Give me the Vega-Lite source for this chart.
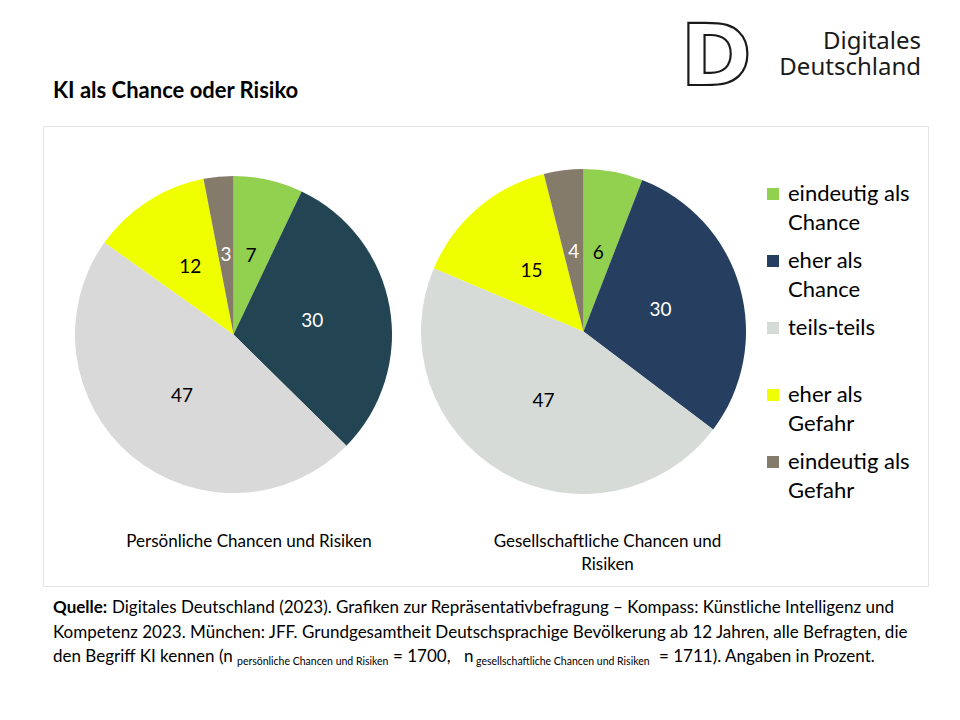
{
  "$schema": "https://vega.github.io/schema/vega-lite/v6.json",
  "background": "white",
  "padding": {"left": 42, "top": 15, "right": 0, "bottom": 0},
  "bounds": "flush",
  "spacing": 0,
  "config": {"view": {"stroke": null}, "font": "Lato", "concat": {"spacing": 0}},
  "vconcat": [
    {
      "width": 885,
      "height": 111,
      "data": {"values": [{"logo": ["Digitales", "Deutschland"], "glyph": "D"}]},
      "layer": [
        {
          "mark": {"type": "text", "align": "right", "baseline": "top", "font": "Noto Sans", "fontSize": 24, "lineHeight": 26, "color": "#1a1a1a", "dx": -7, "dy": 15},
          "encoding": {"text": {"field": "logo"}, "x": {"value": "width"}, "y": {"value": 0}}
        },
        {
          "mark": {"type": "text", "align": "right", "baseline": "top", "font": "DejaVu Sans", "fontWeight": "bold", "fontSize": 86, "fill": "transparent", "stroke": "#1a1a1a", "strokeWidth": 2.2, "dx": -176, "dy": 1.5},
          "encoding": {"text": {"field": "glyph"}, "x": {"value": "width"}, "y": {"value": 0}}
        }
      ]
    },
    {
      "width": 885,
      "height": 460,
      "view": {"stroke": "#e4e4e4", "strokeWidth": 1},
      "title": {"text": "KI als Chance oder Risiko", "anchor": "start", "frame": "group", "font": "Lato", "fontSize": 22, "fontWeight": "bold", "color": "#000000", "dx": 10, "offset": 6, "baseline": "alphabetic"},
      "data": {"values": [
        {"panel": "pers", "cat": "eindeutig als Chance", "order": 1, "value": 7},
        {"panel": "pers", "cat": "eher als Chance", "order": 2, "value": 30},
        {"panel": "pers", "cat": "teils-teils", "order": 3, "value": 47},
        {"panel": "pers", "cat": "eher als Gefahr", "order": 4, "value": 12},
        {"panel": "pers", "cat": "eindeutig als Gefahr", "order": 5, "value": 3},
        {"panel": "ges", "cat": "eindeutig als Chance", "order": 1, "value": 6},
        {"panel": "ges", "cat": "eher als Chance", "order": 2, "value": 30},
        {"panel": "ges", "cat": "teils-teils", "order": 3, "value": 47},
        {"panel": "ges", "cat": "eher als Gefahr", "order": 4, "value": 15},
        {"panel": "ges", "cat": "eindeutig als Gefahr", "order": 5, "value": 4}
      ]},
      "transform": [
        {"stack": "value", "groupby": ["panel"], "sort": [{"field": "order"}], "offset": "normalize", "as": ["v0", "v1"]},
        {"calculate": "(datum.v0 + datum.v1) / 2", "as": "mid"}
      ],
      "encoding": {
        "x": {"field": "panel", "type": "nominal", "scale": {"type": "point", "domain": ["pers", "ges"], "range": [190.5, 540.5], "padding": 0}, "axis": null},
        "y": {"field": "panel", "type": "nominal", "scale": {"type": "point", "domain": ["pers", "ges"], "range": [208.5, 205.5], "padding": 0}, "axis": null}
      },
      "layer": [
        {
          "transform": [{"filter": "datum.panel === 'pers'"}],
          "mark": {"type": "arc", "outerRadius": 158.5},
          "encoding": {
            "theta": {"field": "v0", "type": "quantitative", "scale": {"domain": [0, 1], "range": [0, 6.283185307179586]}},
            "theta2": {"field": "v1"},
            "color": {
              "field": "cat", "type": "nominal",
              "scale": {"domain": ["eindeutig als Chance", "eher als Chance", "teils-teils", "eher als Gefahr", "eindeutig als Gefahr"], "range": ["#92d050", "#263f60", "#d6dbd8", "#f0ff00", "#857b6b"]},
              "condition": [
                {"test": "datum.cat === 'eher als Chance'", "value": "#224453"},
                {"test": "datum.cat === 'teils-teils'", "value": "#d9d9d9"}
              ],
              "legend": {
                "title": null, "orient": "none", "legendX": 719, "legendY": 168,
                "symbolType": "square", "symbolSize": 144, "symbolStrokeWidth": 0,
                "labelFont": "Lato", "labelFontSize": 22, "labelColor": "#000000", "labelLimit": 300,
                "labelOffset": 4, "rowPadding": 16, "padding": 0, "labelBaseline": "alphabetic",
                "labelExpr": "indexof(datum.label, ' als ') >= 0 ? [slice(datum.label, 0, indexof(datum.label, ' als ') + 4), slice(datum.label, indexof(datum.label, ' als ') + 5)] : [datum.label, ' ']",
                "encode": {"labels": {"update": {"lineHeight": {"value": 29}, "dy": {"value": 7}}}}
              }
            }
          }
        },
        {
          "transform": [{"filter": "datum.panel === 'ges'"}],
          "mark": {"type": "arc", "outerRadius": 162.5},
          "encoding": {
            "theta": {"field": "v0", "type": "quantitative"},
            "theta2": {"field": "v1"},
            "color": {"field": "cat", "type": "nominal"}
          }
        },
        {
          "mark": {"type": "text", "radius": 80, "font": "Lato", "fontSize": 19, "align": "center", "baseline": "middle"},
          "encoding": {
            "theta": {"field": "mid", "type": "quantitative"},
            "text": {"field": "value", "type": "quantitative"},
            "color": {"condition": {"test": "datum.cat === 'eher als Chance' || datum.cat === 'eindeutig als Gefahr'", "value": "#ffffff"}, "value": "#000000"}
          }
        },
        {
          "data": {"values": [
            {"panel": "pers", "caption": ["Persönliche Chancen und Risiken"]},
            {"panel": "ges", "caption": ["Gesellschaftliche Chancen und", "Risiken"]}
          ]},
          "transform": [{"filter": "datum.panel === 'pers'"}],
          "mark": {"type": "text", "font": "Lato", "fontSize": 17, "lineHeight": 23, "align": "center", "baseline": "middle", "dx": 15.5, "dy": 207, "color": "#000000"},
          "encoding": {"text": {"field": "caption"}}
        },
        {
          "data": {"values": [
            {"panel": "pers", "caption": ["Persönliche Chancen und Risiken"]},
            {"panel": "ges", "caption": ["Gesellschaftliche Chancen und", "Risiken"]}
          ]},
          "transform": [{"filter": "datum.panel === 'ges'"}],
          "mark": {"type": "text", "font": "Lato", "fontSize": 17, "lineHeight": 23, "align": "center", "baseline": "middle", "dx": 24, "dy": 210, "color": "#000000"},
          "encoding": {"text": {"field": "caption"}}
        }
      ]
    },
    {
      "width": 885,
      "height": 90,
      "data": {"values": [{"k": 1}]},
      "layer": [
        {"mark": {"type": "text", "text": "Quelle:", "fontWeight": "bold", "font": "Lato", "fontSize": 17, "align": "left", "baseline": "middle", "dx": 10, "dy": 22, "color": "#000000"}, "encoding": {"x": {"value": 0}, "y": {"value": 0}}},
        {"mark": {"type": "text", "text": "Digitales Deutschland (2023). Grafiken zur Repräsentativbefragung – Kompass: Künstliche Intelligenz und", "font": "Lato", "fontSize": 17, "align": "left", "baseline": "middle", "dx": 69, "dy": 22, "color": "#000000"}, "encoding": {"x": {"value": 0}, "y": {"value": 0}}},
        {"mark": {"type": "text", "text": "Kompetenz 2023. München: JFF. Grundgesamtheit Deutschsprachige Bevölkerung ab 12 Jahren, alle Befragten, die", "font": "Lato", "fontSize": 17, "align": "left", "baseline": "middle", "dx": 10, "dy": 47, "color": "#000000"}, "encoding": {"x": {"value": 0}, "y": {"value": 0}}},
        {"mark": {"type": "text", "text": "den Begriff KI kennen (n", "font": "Lato", "fontSize": 17, "align": "left", "baseline": "middle", "dx": 10, "dy": 71, "color": "#000000"}, "encoding": {"x": {"value": 0}, "y": {"value": 0}}},
        {"mark": {"type": "text", "text": "persönliche Chancen und Risiken", "font": "Lato", "fontSize": 10.5, "align": "left", "baseline": "middle", "dx": 194, "dy": 76, "color": "#000000"}, "encoding": {"x": {"value": 0}, "y": {"value": 0}}},
        {"mark": {"type": "text", "text": "= 1700,", "font": "Lato", "fontSize": 17, "align": "left", "baseline": "middle", "dx": 350, "dy": 71, "color": "#000000"}, "encoding": {"x": {"value": 0}, "y": {"value": 0}}},
        {"mark": {"type": "text", "text": "n", "font": "Lato", "fontSize": 17, "align": "left", "baseline": "middle", "dx": 421, "dy": 71, "color": "#000000"}, "encoding": {"x": {"value": 0}, "y": {"value": 0}}},
        {"mark": {"type": "text", "text": "gesellschaftliche Chancen und Risiken", "font": "Lato", "fontSize": 10.5, "align": "left", "baseline": "middle", "dx": 433, "dy": 76, "color": "#000000"}, "encoding": {"x": {"value": 0}, "y": {"value": 0}}},
        {"mark": {"type": "text", "text": "= 1711). Angaben in Prozent.", "font": "Lato", "fontSize": 17, "align": "left", "baseline": "middle", "dx": 616, "dy": 71, "color": "#000000"}, "encoding": {"x": {"value": 0}, "y": {"value": 0}}}
      ]
    }
  ]
}
